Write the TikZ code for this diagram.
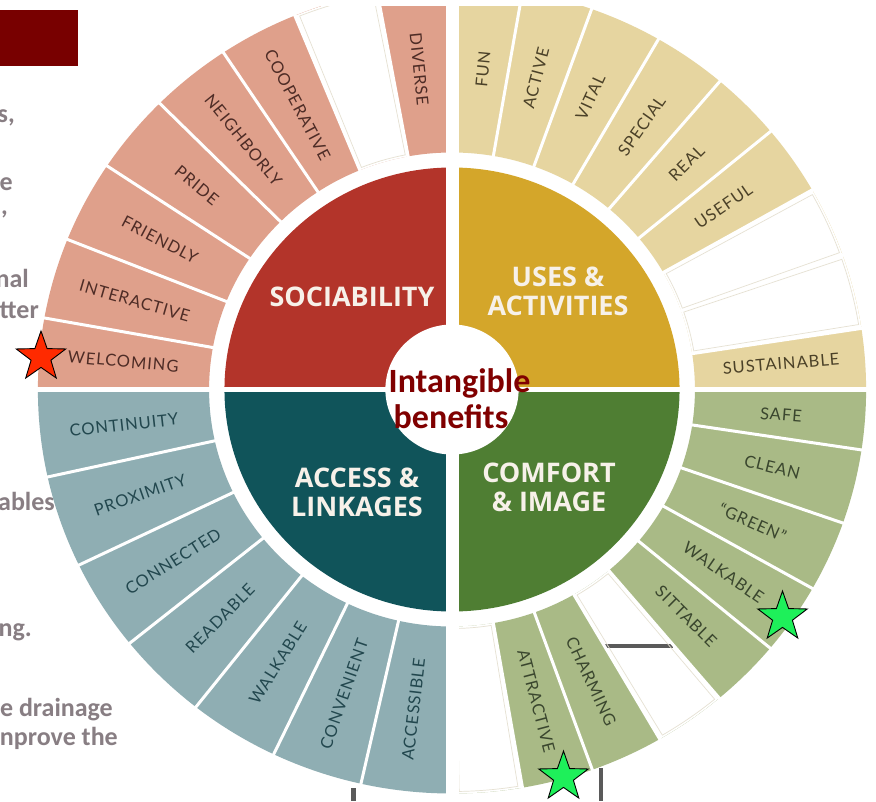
\documentclass[tikz,border=0pt]{standalone}
\usepackage{fontspec}
\setmainfont{Lato}
\newfontfamily\ringfont[LetterSpace=6]{Lato}
\newfontfamily\quadfont{Open Sans}
\newfontfamily\calfont{Carlito}
\usetikzlibrary{shapes.geometric}
\definecolor{sociab}{HTML}{B3342A}
\definecolor{usesc}{HTML}{D4A62A}
\definecolor{comfortc}{HTML}{4F7E33}
\definecolor{accessc}{HTML}{10545A}
\definecolor{pinkring}{HTML}{DFA08B}
\definecolor{yellowring}{HTML}{E6D5A0}
\definecolor{greenring}{HTML}{A9BA86}
\definecolor{tealring}{HTML}{8FAEB3}
\definecolor{pinktext}{HTML}{4E2C26}
\definecolor{yellowtext}{HTML}{4B4128}
\definecolor{greentext}{HTML}{3A462E}
\definecolor{tealtext}{HTML}{22474E}
\definecolor{quadtext}{HTML}{F7F1E9}
\definecolor{benefit}{HTML}{800000}
\definecolor{slidegray}{HTML}{887E83}
\definecolor{slidered}{HTML}{780000}
\definecolor{tablegray}{HTML}{5A5A5A}
\definecolor{blankline}{HTML}{E6E1D3}
\definecolor{starred}{HTML}{FF2A00}
\definecolor{stargreen}{HTML}{1EF05A}
\newcommand{\ringseg}[3]{\fill[#3] (#1:237) arc[start angle=#1, end angle=#2, radius=237] -- (#2:404) arc[start angle=#2, end angle=#1, radius=404] -- cycle;}
\newcommand{\blankseg}[2]{\draw[blankedge] (#1:239) arc[start angle=#1, end angle=#2, radius=239] -- (#2:402) arc[start angle=#2, end angle=#1, radius=402] -- cycle;}
\newcommand{\quadsec}[3]{\fill[#3] (0,0) -- (#1:222) arc[start angle=#1, end angle=#2, radius=222] -- cycle;}
\tikzset{
  ringlbl/.style={font=\ringfont\fontsize{16.5}{18}\selectfont, inner sep=0pt},
  pinklbl/.style={ringlbl, text=pinktext},
  yellowlbl/.style={ringlbl, text=yellowtext},
  greenlbl/.style={ringlbl, text=greentext},
  teallbl/.style={ringlbl, text=tealtext},
  quadlbl/.style={font=\quadfont\bfseries\fontsize{27}{29}\selectfont, text=quadtext, align=center, inner sep=0pt},
  benefitlbl/.style={font=\calfont\bfseries\fontsize{34}{36}\selectfont, text=benefit, inner sep=0pt, anchor=base},
  slidetxt/.style={font=\calfont\bfseries\fontsize{26}{30}\selectfont, text=slidegray, inner sep=0pt, anchor=base east},
  sepline/.style={white, line width=3pt},
  blankedge/.style={draw=blankline, line width=0.7pt},
  tableline/.style={tablegray, line width=4pt},
  starshape/.style={star, star points=5, star point ratio=2.5, minimum size=52pt, inner sep=0pt, draw=black, line width=0.9pt}
}
\begin{document}
\begin{tikzpicture}[x=1pt, y=-1pt]
\useasboundingbox (0,0) rectangle (876,801);
\fill[white] (0,0) rectangle (876,801);
% remnants of the slide behind
\fill[slidered] (0,10) rectangle (78,66);
\node[slidetxt] (f1) at (15,122) {s,};
\node[slidetxt] (f2) at (13,190) {e};
\node[slidetxt] (f3) at (8,214) {,};
\node[slidetxt] (f4) at (29,287) {nal};
\node[slidetxt] (f5) at (39,318) {tter};
\node[slidetxt] (f6) at (55,510) {ables};
\node[slidetxt] (f7) at (32,636) {ng.};
\node[slidetxt] (f8) at (113,716) {e drainage};
\node[slidetxt] (f9) at (118,745) {nprove the};
\begin{scope}[shift={(452,389.5)}, xscale=1.025, yscale=-1]
  % outer ring
  \ringseg{90}{180}{pinkring}
  \ringseg{0}{90}{yellowring}
  \ringseg{-90}{0}{greenring}
  \ringseg{180}{270}{tealring}
  % erased segments
  \ringseg{100.4}{112.3}{white}
  \ringseg{8.7}{29.6}{white}
  \ringseg{-59.9}{-49.8}{white}
  \ringseg{-90}{-80.2}{white}
\end{scope}
% table lines behind
\draw[tableline] (604,646) -- (673,646);
\draw[tableline] (600.5,768) -- (600.5,801);
\draw[tableline, line width=5pt] (353,788) -- (353,801);
\begin{scope}[shift={(452,389.5)}, xscale=1.025, yscale=-1]
  \foreach \a in {100.4,112.3,123.5,134.9,146.4,158.2,169.8,
                  80.2,70.3,60.1,49.7,39.7,29.6,19.4,8.7,
                  -8.6,-19.3,-29.5,-39.8,-49.8,-59.9,-70.2,-80.2,
                  192.5,205.75,218.9,231.8,244.5,257.3}
    \draw[sepline] (\a:232) -- (\a:410);
  \blankseg{101.0}{111.7}
  \blankseg{9.3}{18.9}
  \blankseg{19.9}{29.0}
  \blankseg{-59.3}{-50.4}
  \blankseg{-89}{-80.8}
  % inner quadrants
  \quadsec{90}{180}{sociab}
  \quadsec{0}{90}{usesc}
  \quadsec{-90}{0}{comfortc}
  \quadsec{180}{270}{accessc}
\end{scope}
% white bands and top crop
\fill[white] (445.5,0) rectangle (458.5,801);
\fill[white] (20,386.5) rectangle (872,392);
\fill[white] (300,0) rectangle (620,6);
\begin{scope}[shift={(452,389.5)}, xscale=1.025, yscale=-1]
  \fill[white] (0,0) circle [radius=65];
  % sociability words
  \node[pinklbl, rotate=-84.3] (diverse) at (95.7:322) {DIVERSE};
  \node[pinklbl, rotate=-62.1] (cooperative) at (117.9:322) {COOPERATIVE};
  \node[pinklbl, rotate=-50.8] (neighborly) at (129.2:322) {NEIGHBORLY};
  \node[pinklbl, rotate=-39.35] (pride) at (140.65:322) {PRIDE};
  \node[pinklbl, rotate=-27.7] (friendly) at (152.3:322) {FRIENDLY};
  \node[pinklbl, rotate=-16] (interactive) at (164:322) {INTERACTIVE};
  \node[pinklbl, rotate=-5] (welcoming) at (175:322) {WELCOMING};
  % uses words
  \node[yellowlbl, rotate=84.6] (fun) at (84.6:322) {FUN};
  \node[yellowlbl, rotate=75.25] (active) at (75.25:322) {ACTIVE};
  \node[yellowlbl, rotate=65.2] (vital) at (65.2:322) {VITAL};
  \node[yellowlbl, rotate=54.9] (special) at (54.9:322) {SPECIAL};
  \node[yellowlbl, rotate=44.7] (real) at (44.7:322) {REAL};
  \node[yellowlbl, rotate=34.65] (useful) at (34.65:322) {USEFUL};
  \node[yellowlbl, rotate=4.6] (sustainable) at (4.6:322) {SUSTAINABLE};
  % comfort words
  \node[greenlbl, rotate=-4.5] (safe) at (-4.5:322) {SAFE};
  \node[greenlbl, rotate=-13.95] (clean) at (-13.95:322) {CLEAN};
  \node[greenlbl, rotate=-24.4] (green) at (-24.4:322) {“GREEN”};
  \node[greenlbl, rotate=-34.65] (walkableg) at (-34.65:322) {WALKABLE};
  \node[greenlbl, rotate=-44.8] (sittable) at (-44.8:322) {SITTABLE};
  \node[greenlbl, rotate=-65.05] (charming) at (-65.05:322) {CHARMING};
  \node[greenlbl, rotate=-75.2] (attractive) at (-75.2:322) {ATTRACTIVE};
  % access words
  \node[teallbl, rotate=6.3] (continuity) at (186.3:322) {CONTINUITY};
  \node[teallbl, rotate=19.1] (proximity) at (199.1:322) {PROXIMITY};
  \node[teallbl, rotate=32.3] (connected) at (212.3:322) {CONNECTED};
  \node[teallbl, rotate=45.35] (readable) at (225.35:322) {READABLE};
  \node[teallbl, rotate=58.15] (walkablet) at (238.15:322) {WALKABLE};
  \node[teallbl, rotate=70.9] (convenient) at (250.9:322) {CONVENIENT};
  \node[teallbl, rotate=83.3] (accessible) at (263.3:322) {ACCESSIBLE};
\end{scope}
% quadrant titles
\node[quadlbl] (sociability) at (352,297) {SOCIABILITY};
\node[quadlbl] (uses) at (558,291) {USES \&\\ACTIVITIES};
\node[quadlbl] (comfort) at (549,487) {COMFORT\\\& IMAGE};
\node[quadlbl] (access) at (357,492) {ACCESS \&\\LINKAGES};
% centre
\node[benefitlbl] (intangible) at (459.5,392) {Intangible};
\node[benefitlbl] (benefits) at (451,428) {benefits};
% stars
\node[starshape, fill=starred] (redstar) at (41,357) {};
\node[starshape, fill=stargreen] (greenstar1) at (782.5,617) {};
\node[starshape, fill=stargreen] (greenstar2) at (563.5,777) {};
\end{tikzpicture}
\end{document}
